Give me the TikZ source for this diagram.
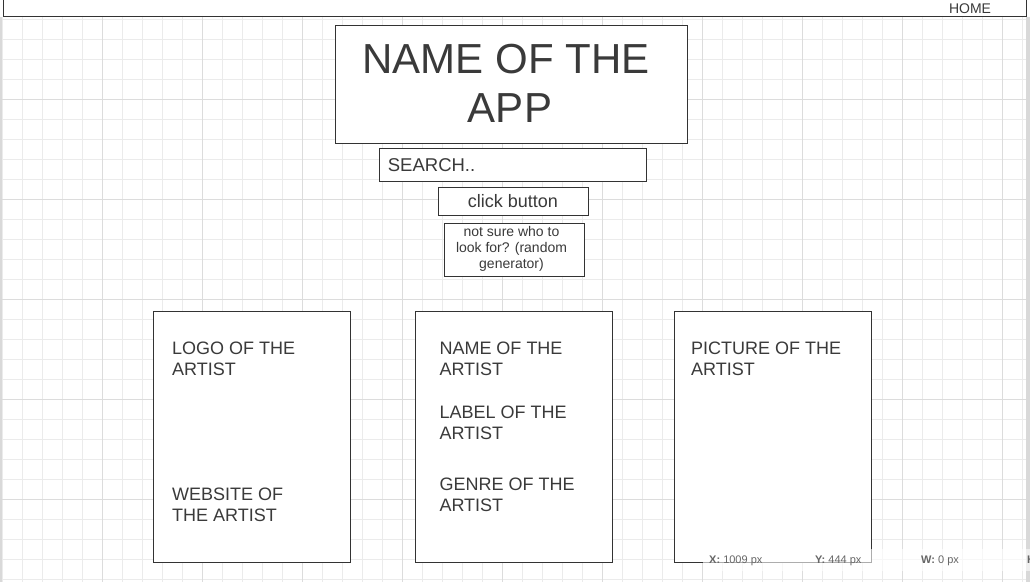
\documentclass[tikz,border=0pt]{standalone}
\usepackage{fontspec}
\setmainfont{Liberation Sans}
\definecolor{ink}{HTML}{333333}
\definecolor{txt}{HTML}{3A3A3A}
\definecolor{gminor}{HTML}{EBEBEB}
\definecolor{gmajor}{HTML}{DCDCDC}
\definecolor{edge}{HTML}{D9D9D9}
\definecolor{stat}{HTML}{666666}
\begin{document}
\begin{tikzpicture}[x=1pt,y=-1pt,
  frame/.style={draw=ink, line width=1pt, fill=white, rectangle, inner sep=0pt},
  lbl/.style={text=txt, inner sep=0pt, anchor=base west, align=left},
  ctr/.style={text=txt, inner sep=0pt, anchor=base, align=center},
  stxt/.style={text=stat, inner sep=0pt, anchor=base west, font=\fontsize{11}{13}\selectfont}]
\useasboundingbox (0,0) rectangle (1030,582);
\fill[white] (0,0) rectangle (1030,582);
% grid
\foreach \i in {0,...,51} {\draw[gminor, line width=1pt] (2.3+20*\i,17) -- (2.3+20*\i,582);}
\foreach \i in {0,...,28} {\draw[gminor, line width=1pt] (2,19.3+20*\i) -- (1026,19.3+20*\i);}
\foreach \i in {1,...,10} {\draw[gmajor, line width=1pt] (2.3+100*\i,17) -- (2.3+100*\i,582);}
\foreach \i in {0,...,4} {\draw[gmajor, line width=1pt] (2,99.3+100*\i) -- (1026,99.3+100*\i);}
\fill[edge] (0,17) rectangle (2,582);
\fill[edge] (1026,17) rectangle (1030,582);
% top bar
\node[frame, minimum width=1023pt, minimum height=22pt, anchor=south west] (topbar) at (2.5,17.3) {};
\node[ctr, font=\fontsize{14}{16}\selectfont] (home) at (970,13.3) {HOME};
% title
\node[frame, minimum width=352pt, minimum height=118pt] (title) at (511.5,84.5) {};
\node[ctr, font=\fontsize{42}{49}\selectfont] (titletxt) at (510,122.3) {\mbox{NAME OF THE\kern8pt}\\APP};
% search
\node[frame, minimum width=267pt, minimum height=33pt] (search) at (513,164.8) {};
\node[lbl, font=\fontsize{18.5}{21}\selectfont] (searchtxt) at (387.7,171.5) {SEARCH..};
% button
\node[frame, minimum width=150pt, minimum height=28pt] (button) at (513.5,201.3) {};
\node[ctr, font=\fontsize{18}{21}\selectfont] (buttontxt) at (513,207.3) {click button};
% random
\node[frame, minimum width=140pt, minimum height=53pt] (random) at (514.5,250) {};
\node[ctr, font=\fontsize{14}{16}\selectfont] (randomtxt) at (511.5,268.3) {not sure who to\\look for? (random\\generator)};
% cards
\node[frame, minimum width=197pt, minimum height=251pt] (card1) at (252,437) {};
\node[frame, minimum width=197pt, minimum height=251pt] (card2) at (514,437) {};
\node[frame, minimum width=197pt, minimum height=251pt] (card3) at (773,437) {};
\node[lbl, font=\fontsize{18}{21}\selectfont] (logo) at (172,375) {LOGO OF THE\\ARTIST};
\node[lbl, font=\fontsize{18}{21}\selectfont] (website) at (172,521) {WEBSITE OF\\THE ARTIST};
\node[lbl, font=\fontsize{18}{21}\selectfont] (name) at (439.3,375) {NAME OF THE\\ARTIST};
\node[lbl, font=\fontsize{18}{21}\selectfont] (label) at (439.3,439.3) {LABEL OF THE\\ARTIST};
\node[lbl, font=\fontsize{18}{21}\selectfont] (genre) at (439.3,511) {GENRE OF THE\\ARTIST};
\node[lbl, font=\fontsize{18}{21}\selectfont] (picture) at (691,375) {PICTURE OF THE\\ARTIST};
% status overlay
\fill[white, opacity=0.6] (703,549) rectangle (1030,571);
\node[stxt] (sx) at (709,563) {\textbf{X:} 1009 px};
\node[stxt] (sy) at (815,563) {\textbf{Y:} 444 px};
\node[stxt] (sw) at (921,563) {\textbf{W:} 0 px};
\node[stxt] (sh) at (1027,563) {\textbf{H:} 0 px};
\end{tikzpicture}
\end{document}
